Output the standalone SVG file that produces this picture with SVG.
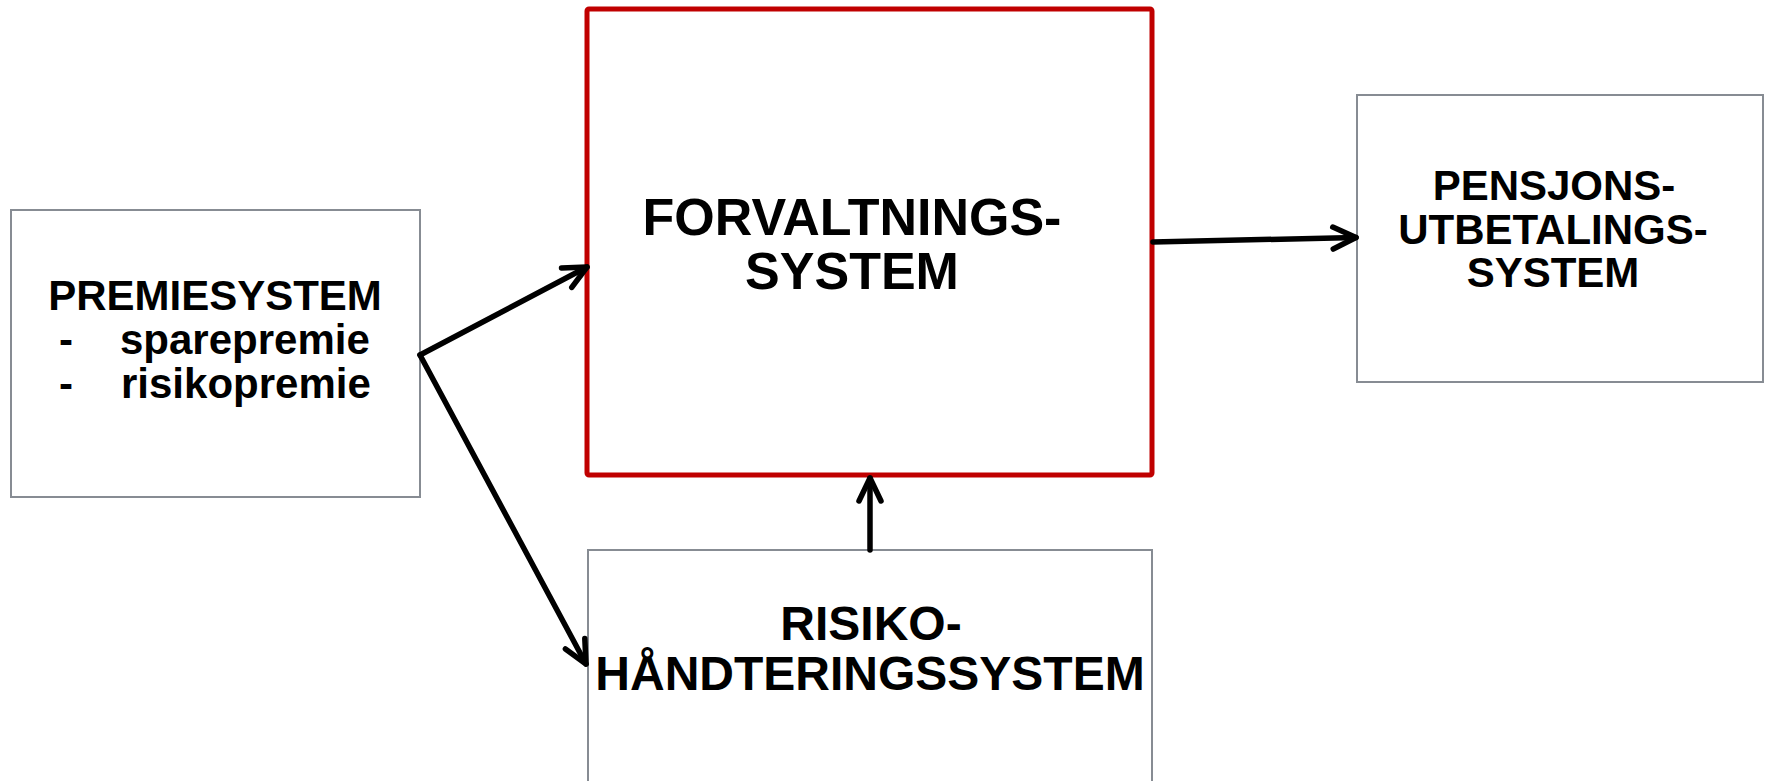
<svg xmlns="http://www.w3.org/2000/svg" width="1765" height="781" viewBox="0 0 1765 781">
  <style>
    .box { fill: #ffffff; stroke: #878c93; stroke-width: 2; }
    .core { fill: #ffffff; stroke: #c00000; stroke-width: 5; }
    .lbl { font-family: "Liberation Sans", Arial, sans-serif; font-weight: bold; fill: #000000; }
    .wire { fill: none; stroke: #000000; stroke-width: 5.5; stroke-linecap: round; stroke-linejoin: round; }
  </style>
  <defs>
    <marker id="head" markerUnits="userSpaceOnUse" viewBox="-30 -16 36 32" refX="0" refY="0" markerWidth="36" markerHeight="32" orient="auto">
      <path d="M-23,-11 L0,0 L-23,11" fill="none" stroke="#000000" stroke-width="5.5" stroke-linecap="round" stroke-linejoin="round"/>
    </marker>
  </defs>

  <rect width="1765" height="781" fill="#ffffff"/>

  <!-- Premium system -->
  <g id="premiesystem">
    <rect class="box" x="11" y="210" width="409" height="287"/>
    <text class="lbl" font-size="42" x="215" y="310" text-anchor="middle">PREMIESYSTEM</text>
    <text class="lbl" font-size="42" x="59" y="354">-</text>
    <text class="lbl" font-size="42" x="120" y="354">sparepremie</text>
    <text class="lbl" font-size="42" x="59" y="398">-</text>
    <text class="lbl" font-size="42" x="121" y="398">risikopremie</text>
  </g>

  <!-- Management system (highlighted) -->
  <g id="forvaltningssystem">
    <rect class="core" x="587" y="9" width="565" height="466" rx="2"/>
    <text class="lbl" font-size="52" x="852" y="235" text-anchor="middle">FORVALTNINGS-</text>
    <text class="lbl" font-size="52" x="852" y="289" text-anchor="middle">SYSTEM</text>
  </g>

  <!-- Pension payout system -->
  <g id="pensjonssystem">
    <rect class="box" x="1357" y="95" width="406" height="287"/>
    <text class="lbl" font-size="42" x="1554" y="200" text-anchor="middle">PENSJONS-</text>
    <text class="lbl" font-size="42" x="1553" y="244" text-anchor="middle">UTBETALINGS-</text>
    <text class="lbl" font-size="42" x="1553" y="287" text-anchor="middle">SYSTEM</text>
  </g>

  <!-- Risk management system -->
  <g id="risikosystem">
    <rect class="box" x="588" y="550" width="564" height="245"/>
    <text class="lbl" font-size="48" x="871" y="640" text-anchor="middle">RISIKO-</text>
    <text class="lbl" font-size="48" x="870" y="690" text-anchor="middle">HÅNDTERINGSSYSTEM</text>
  </g>

  <!-- Connectors -->
  <g id="connectors">
    <line class="wire" x1="420" y1="355" x2="587" y2="267" marker-end="url(#head)"/>
    <line class="wire" x1="420" y1="355" x2="586" y2="664" marker-end="url(#head)"/>
    <line class="wire" x1="870" y1="550" x2="870" y2="478" marker-end="url(#head)"/>
    <line class="wire" x1="1153" y1="242" x2="1356" y2="237.5" marker-end="url(#head)"/>
  </g>
</svg>
